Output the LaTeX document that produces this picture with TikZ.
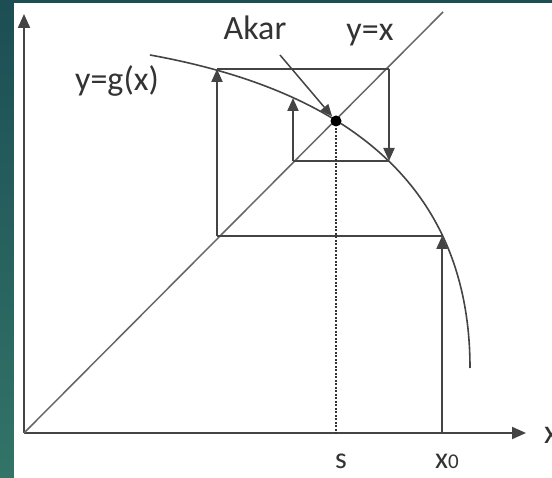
\documentclass[tikz,border=0pt]{standalone}
\usepackage{fontspec}
\setmainfont{Carlito}
\usetikzlibrary{arrows.meta}
\definecolor{slidetop}{RGB}{28,78,84}
\definecolor{slidebot}{RGB}{50,116,104}
\definecolor{inkgray}{RGB}{68,68,68}

\begin{document}
\begin{tikzpicture}[
    x=1pt, y=-1pt,
    lbl/.style={font=\fontsize{34}{38}\selectfont, text=black!80, inner sep=0pt, anchor=base},
    ticklbl/.style={font=\fontsize{30}{34}\selectfont, text=black!80, inner sep=0pt, anchor=base},
    axis/.style={draw=inkgray, line width=2pt, -{Triangle[length=14pt, width=12pt]}},
    line/.style={draw=inkgray, line width=2pt},
    stepline/.style={draw=inkgray, line width=2pt, -{Triangle[length=13pt, width=11pt]}},
    pointer/.style={draw=inkgray, line width=1.5pt, -{Triangle[length=12pt, width=10pt]}},
    diag/.style={draw=black!60, line width=1.5pt},
    curve/.style={draw=inkgray, line width=1.6pt},
    dotline/.style={draw=black!80, line width=2pt, dash pattern=on 2pt off 1.5pt}
]

    \shade[top color=slidetop, bottom color=slidebot] (0,0) rectangle (552,478);
    \fill[white] (14,3) rectangle (552,478);
    \useasboundingbox (0,0) rectangle (552,478);

    \coordinate (O) at (24,433);
    \coordinate (ytip) at (24,14);
    \coordinate (xtip) at (526,433);
    \coordinate (dtop) at (443,12);
    \coordinate (gstart) at (150,55);
    \coordinate (gend) at (470,368);
    \coordinate (x0) at (442,433);
    \coordinate (sx) at (336,433);
    \coordinate (root) at (336,121);
    \coordinate (g0) at (442,236);
    \coordinate (d0) at (217,236);
    \coordinate (g1) at (217,69);
    \coordinate (d1) at (389,69);
    \coordinate (g2) at (389,161);
    \coordinate (d2) at (293,161);
    \coordinate (g3) at (293,98);
    \coordinate (akarfrom) at (280,55);

    \node [lbl] (akar) at (255,40) {Akar};
    \node [lbl] (yx) at (370,41) {y=x};
    \node [lbl] (ygx) at (117,91) {y=g(x)};
    \node [ticklbl] (slbl) at (341,468) {s};
    \node [ticklbl, anchor=base west] (x0lbl) at (435,468) {x{\fontsize{21}{24}\selectfont 0}};
    \node [lbl, anchor=base west] (xlbl) at (544,443) {x};

    \draw [axis] (O) -- (ytip);
    \draw [axis] (O) -- (xtip);
    \draw [diag] (O) -- (dtop);

    \draw [curve] (gstart) .. controls (350,91) and (470,188) .. (gend);

    \draw [stepline] (x0) -- (g0);
    \draw [line] (g0) -- (d0);
    \draw [stepline] (d0) -- (g1);
    \draw [line] (g1) -- (d1);
    \draw [stepline] (d1) -- (g2);
    \draw [line] (g2) -- (d2);
    \draw [stepline] (d2) -- (g3);

    \draw [dotline] (root) -- (sx);
    \draw [pointer, shorten >=6pt] (akarfrom) -- (root);
    \fill [black] (root) circle (5.5);

\end{tikzpicture}
\end{document}
